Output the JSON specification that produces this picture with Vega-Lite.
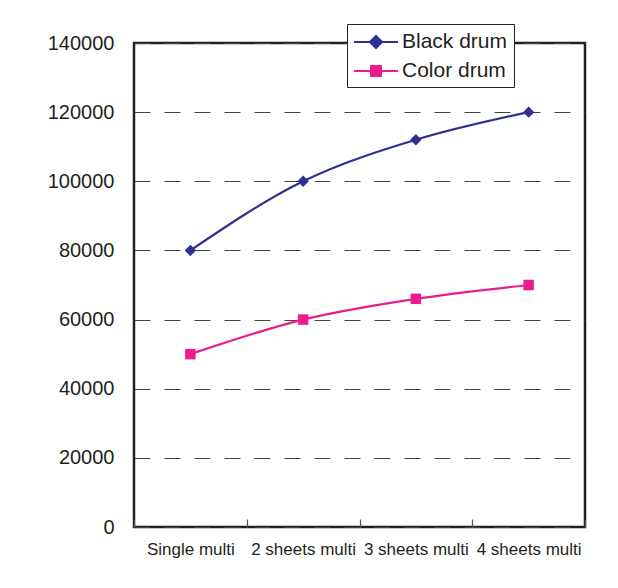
{
  "$schema": "https://vega.github.io/schema/vega-lite/v6.json",
  "autosize": {"type": "none"},
  "width": 451,
  "height": 484,
  "padding": {"left": 134, "top": 43, "right": 33, "bottom": 61},
  "background": "white",
  "config": {
    "font": "Liberation Sans",
    "view": {"stroke": "#231f20", "strokeWidth": 2.5},
    "axis": {"labelFont": "Liberation Sans", "labelColor": "#231f20"}
  },
  "data": {
    "values": [
      {"cat": "Single multi", "series": "Black drum", "value": 80000},
      {"cat": "2 sheets multi", "series": "Black drum", "value": 100000},
      {"cat": "3 sheets multi", "series": "Black drum", "value": 112000},
      {"cat": "4 sheets multi", "series": "Black drum", "value": 120000},
      {"cat": "Single multi", "series": "Color drum", "value": 50000},
      {"cat": "2 sheets multi", "series": "Color drum", "value": 60000},
      {"cat": "3 sheets multi", "series": "Color drum", "value": 66000},
      {"cat": "4 sheets multi", "series": "Color drum", "value": 70000}
    ]
  },
  "encoding": {
    "x": {
      "field": "cat", "type": "nominal",
      "sort": ["Single multi", "2 sheets multi", "3 sheets multi", "4 sheets multi"],
      "scale": {"type": "band", "paddingInner": 0, "paddingOuter": 0},
      "axis": {
        "title": null, "labelAngle": 0, "labelFontSize": 17, "labelPadding": 22,
        "domain": false, "grid": false, "ticks": true, "tickBand": "extent",
        "tickSize": -8, "tickColor": "#555", "tickWidth": 1.2
      }
    },
    "y": {
      "field": "value", "type": "quantitative",
      "scale": {"domain": [0, 140000], "nice": false},
      "axis": {
        "title": null, "values": [0, 20000, 40000, 60000, 80000, 100000, 120000, 140000],
        "format": "d",
        "labelFontSize": 20, "labelPadding": 20, "ticks": false, "domain": false,
        "grid": true, "gridDash": [16, 14], "gridColor": "#444", "gridWidth": 1.2
      }
    },
    "color": {
      "field": "series", "type": "nominal",
      "scale": {"domain": ["Black drum", "Color drum"], "range": ["#2e3192", "#ec1c8c"]},
      "legend": {
        "title": null, "orient": "none", "legendX": 213, "legendY": -19,
        "fillColor": "white", "strokeColor": "#231f20", "padding": 6,
        "symbolSize": 484, "labelFontSize": 21, "labelColor": "#231f20",
        "labelOffset": 25, "rowPadding": 6,
        "encode": {
          "symbols": {
            "update": {
              "shape": {"signal": "datum.value === 'Black drum' ? 'M-1,0H3M1,-0.55L1.55,0L1,0.55L0.45,0Z' : 'M-1,0H3M0.55,-0.45H1.45V0.45H0.55Z'"},
              "fill": {"signal": "datum.value === 'Black drum' ? '#2e3192' : '#ec1c8c'"},
              "stroke": {"signal": "datum.value === 'Black drum' ? '#2e3192' : '#ec1c8c'"},
              "strokeWidth": {"value": 2},
              "fillOpacity": {"value": 1},
              "opacity": {"value": 1}
            }
          }
        }
      }
    }
  },
  "layer": [
    {
      "mark": {"type": "line", "interpolate": "monotone", "strokeWidth": 2.2}
    },
    {
      "transform": [{"filter": "datum.series === 'Black drum'"}],
      "mark": {"type": "point", "filled": true, "opacity": 1, "shape": "diamond", "size": 130}
    },
    {
      "transform": [{"filter": "datum.series === 'Color drum'"}],
      "mark": {"type": "point", "filled": true, "opacity": 1, "shape": "square", "size": 110}
    }
  ]
}
